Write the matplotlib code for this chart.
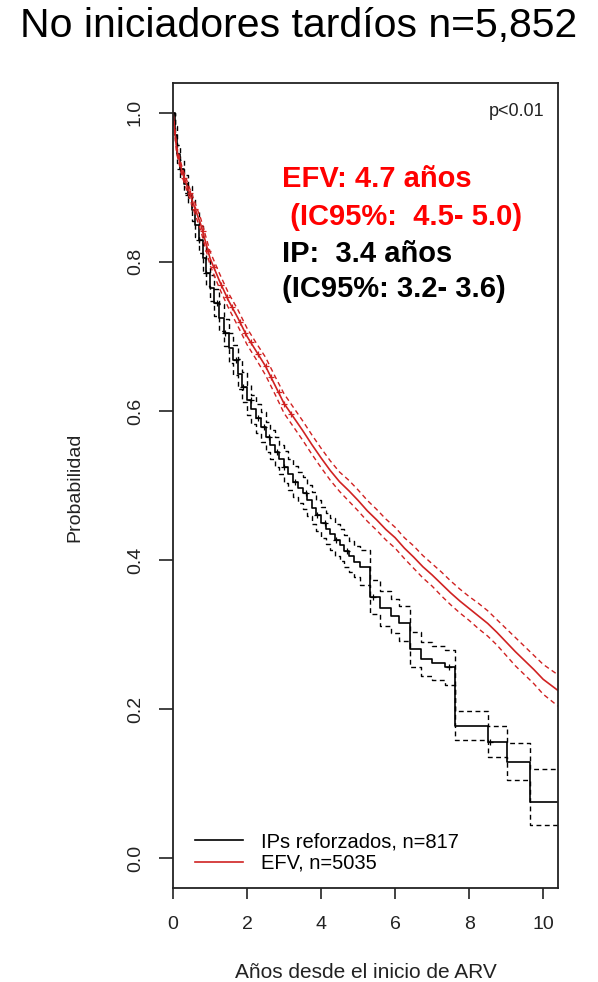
import numpy as np
import matplotlib
matplotlib.use("Agg")
import matplotlib.pyplot as plt

plt.rcParams["font.family"] = ["Liberation Sans", "DejaVu Sans"]

# === Data ===
title = "No iniciadores tardíos n=5,852"
t_end = 10.4

# EFV (red)
efv_t = [0, 0.1, 0.25, 0.5, 0.75, 1.0, 1.25, 1.5, 1.75, 2.0, 2.25, 2.5, 2.75, 3.0,
         3.25, 3.5, 3.75, 4.0, 4.25, 4.5, 4.75, 5.0, 5.25, 5.5, 5.75, 6.0, 6.25, 6.5,
         6.75, 7.0, 7.25, 7.5, 7.75, 8.0, 8.25, 8.5, 8.75, 9.0, 9.25, 9.5, 9.75, 10.0, 10.4]
efv_s = [1.0, 0.95, 0.92, 0.885, 0.85, 0.805, 0.775, 0.748, 0.725, 0.70, 0.68, 0.66, 0.635, 0.61,
         0.592, 0.574, 0.555, 0.537, 0.52, 0.505, 0.493, 0.48, 0.466, 0.454, 0.441, 0.43, 0.416, 0.404,
         0.391, 0.38, 0.368, 0.356, 0.345, 0.335, 0.325, 0.315, 0.303, 0.29, 0.277, 0.265, 0.253, 0.24, 0.225]
efv_up = [1.0, 0.955, 0.926, 0.892, 0.858, 0.814, 0.785, 0.758, 0.736, 0.711, 0.691, 0.672, 0.647, 0.623,
          0.605, 0.587, 0.568, 0.55, 0.533, 0.518, 0.507, 0.494, 0.48, 0.468, 0.455, 0.444, 0.43, 0.419,
          0.406, 0.395, 0.384, 0.372, 0.361, 0.351, 0.342, 0.332, 0.32, 0.308, 0.296, 0.284, 0.272, 0.26, 0.246]
efv_lo = [1.0, 0.945, 0.914, 0.878, 0.842, 0.796, 0.765, 0.738, 0.714, 0.689, 0.669, 0.648, 0.623, 0.597,
          0.579, 0.561, 0.542, 0.524, 0.507, 0.492, 0.479, 0.466, 0.452, 0.44, 0.427, 0.416, 0.402, 0.389,
          0.376, 0.365, 0.352, 0.34, 0.329, 0.319, 0.308, 0.298, 0.286, 0.272, 0.258, 0.246, 0.234, 0.22, 0.204]
efv_cens = [0.3, 0.45, 0.6, 0.8, 0.95, 1.1, 1.3, 1.45, 1.6, 1.8, 1.95, 2.1, 2.3, 2.5, 2.65, 2.85, 3.0, 3.2]

# IPs reforzados (black)
ip_t = [0, 0.05, 0.12, 0.2, 0.3, 0.4, 0.5, 0.6, 0.7, 0.8, 0.9, 1.0, 1.12, 1.25, 1.37, 1.5,
        1.62, 1.75, 1.87, 2.0, 2.12, 2.25, 2.37, 2.5, 2.62, 2.75, 2.87, 3.0, 3.12, 3.25, 3.37,
        3.5, 3.62, 3.75, 3.87, 4.0, 4.12, 4.25, 4.37, 4.5, 4.62, 4.75, 4.9, 5.05, 5.32, 5.6,
        5.9, 6.1, 6.4, 6.7, 7.0, 7.35, 7.62, 8.5, 9.03, 9.65]
ip_s = [1.0, 0.97, 0.945, 0.925, 0.905, 0.89, 0.87, 0.85, 0.83, 0.805, 0.785, 0.765, 0.745, 0.725,
        0.705, 0.685, 0.668, 0.65, 0.632, 0.615, 0.602, 0.59, 0.578, 0.565, 0.555, 0.545, 0.535,
        0.525, 0.515, 0.505, 0.497, 0.49, 0.48, 0.47, 0.46, 0.45, 0.442, 0.435, 0.427, 0.42, 0.412,
        0.405, 0.398, 0.39, 0.35, 0.335, 0.325, 0.315, 0.28, 0.267, 0.262, 0.256, 0.177, 0.156, 0.129, 0.075]
ip_up = [1.0, 0.982, 0.957, 0.937, 0.917, 0.902, 0.885, 0.867, 0.848, 0.823, 0.803, 0.783, 0.763, 0.743,
         0.723, 0.705, 0.688, 0.67, 0.652, 0.635, 0.622, 0.61, 0.598, 0.585, 0.575, 0.565, 0.555,
         0.546, 0.536, 0.526, 0.518, 0.511, 0.501, 0.491, 0.481, 0.471, 0.463, 0.456, 0.448, 0.441, 0.433,
         0.426, 0.419, 0.413, 0.373, 0.358, 0.348, 0.338, 0.303, 0.29, 0.285, 0.279, 0.198, 0.178, 0.155, 0.12]
ip_lo = [1.0, 0.958, 0.933, 0.913, 0.893, 0.878, 0.855, 0.833, 0.812, 0.787, 0.767, 0.747, 0.727, 0.707,
         0.687, 0.665, 0.648, 0.63, 0.612, 0.595, 0.582, 0.57, 0.558, 0.545, 0.535, 0.525, 0.515,
         0.504, 0.494, 0.484, 0.476, 0.469, 0.459, 0.449, 0.439, 0.429, 0.421, 0.414, 0.406, 0.399, 0.391,
         0.384, 0.377, 0.367, 0.327, 0.312, 0.302, 0.292, 0.257, 0.244, 0.239, 0.233, 0.158, 0.136, 0.105, 0.045]
ip_cens = [0.2, 0.4, 0.7, 0.9, 1.2, 1.4, 1.7, 1.9, 2.1, 2.3, 2.45, 2.6, 2.8, 3.0, 3.3, 3.6,
           3.9, 4.1, 4.4, 4.7, 5.4, 7.45, 8.55]

RED = "#d02222"
TXT_RED = "#ff0000"
DASH = (0, (3.5, 2.5))


def step_at(t, s, x):
    idx = np.searchsorted(t, x, side="right") - 1
    return np.asarray(s)[idx]


def draw_km(ax, t, s, up, lo, cens, color, label, steps=True):
    if steps:
        # extend the last step to the end of follow-up
        tt = np.append(t, t_end)
        ext = lambda a: np.append(a, a[-1])
        ds = "steps-post"
        y_c = step_at(t, s, cens)
    else:
        tt = np.asarray(t)
        ext = np.asarray
        ds = "default"
        y_c = np.interp(cens, t, s)
    ax.plot(tt, ext(s), drawstyle=ds, color=color, lw=1.2, label=label)
    for arr in (up, lo):
        ax.plot(tt, ext(arr), drawstyle=ds, color=color, linestyle=DASH, lw=1.0)
    ax.plot(cens, y_c, linestyle="none", marker="+", ms=5, mew=0.9, color=color)


# === Plot ===
fig = plt.figure(figsize=(5.98, 9.82), dpi=100)
ax = fig.add_axes([0.2893, 0.0957, 0.6438, 0.8198])

draw_km(ax, ip_t, ip_s, ip_up, ip_lo, ip_cens, "black", "IPs reforzados, n=817")
draw_km(ax, efv_t, efv_s, efv_up, efv_lo, efv_cens, RED, "EFV, n=5035", steps=False)

ax.set_xlim(0, t_end)
ax.set_ylim(-0.04, 1.04)
ax.set_xticks([0, 2, 4, 6, 8, 10])
ax.set_yticks([0.0, 0.2, 0.4, 0.6, 0.8, 1.0])
ax.set_yticklabels(["0.0", "0.2", "0.4", "0.6", "0.8", "1.0"], rotation=90, va="center")
ax.tick_params(axis="x", length=8, width=1.2, pad=12, labelsize=14, colors="#222")
ax.tick_params(axis="y", length=10, width=1.2, pad=11, labelsize=14, colors="#222")
for sp in ax.spines.values():
    sp.set_linewidth(1.3)
    sp.set_color("#222")

fig.text(0.611, 1 - 972 / 982, "Años desde el inicio de ARV", ha="center", va="center",
         fontsize=15, color="#222")
fig.text(75 / 598, 1 - 487 / 982, "Probabilidad", rotation=90, ha="center", va="center",
         fontsize=14, color="#222")

ax.legend(loc="upper left", bbox_to_anchor=(0.057, 0.069), frameon=False, fontsize=14.5,
          handlelength=2.4, handletextpad=0.9, labelspacing=0.12, borderpad=0, borderaxespad=0)

# annotations
ax.text(0.965, 0.975, "p<0.01", transform=ax.transAxes, ha="right", va="top",
        fontsize=13, color="#222")
notes = [("EFV: 4.7 años", TXT_RED, 282, 187),
         (" (IC95%:  4.5- 5.0)", TXT_RED, 282, 225),
         ("IP:  3.4 años", "black", 282, 262),
         ("(IC95%: 3.2- 3.6)", "black", 282, 297)]
for txt, col, px, py in notes:
    fig.text(px / 598, 1 - py / 982, txt, color=col, fontsize=21, fontweight="bold",
             ha="left", va="baseline")

fig.text(0.5, 1 - 26 / 982, title, ha="center", va="center", fontsize=29.5)

fig.savefig("out.png", dpi=100)
